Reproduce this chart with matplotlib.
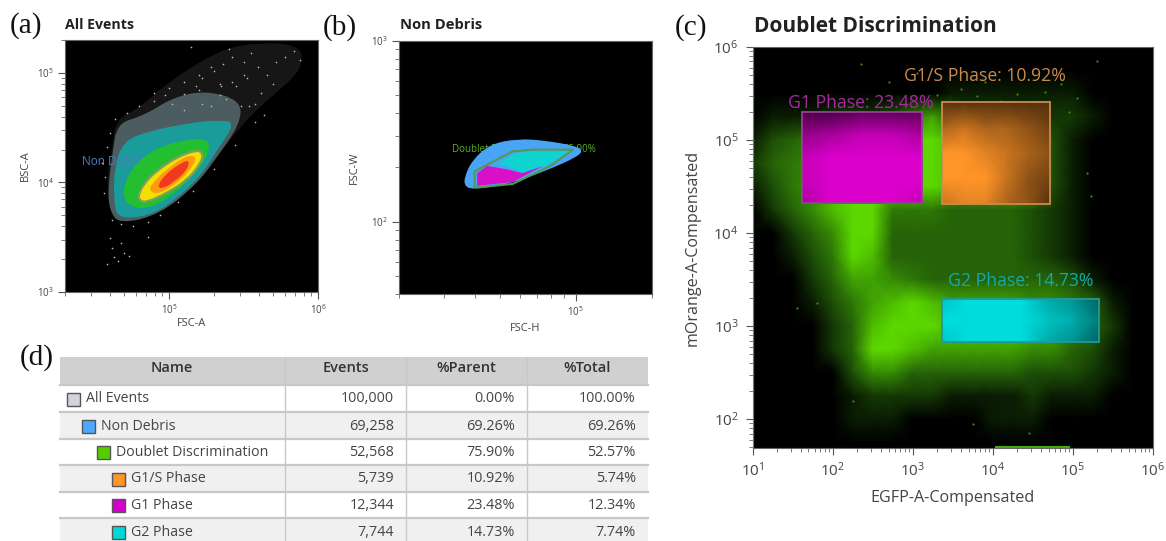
import numpy as np
import matplotlib
matplotlib.use("Agg")
import matplotlib.pyplot as plt
from matplotlib.path import Path
from matplotlib.patches import PathPatch, Rectangle
from matplotlib.colors import LinearSegmentedColormap
from matplotlib.ticker import LogLocator, NullFormatter, LogFormatterSciNotation

plt.rcParams['font.family'] = ['Open Sans', 'DejaVu Sans']
plt.rcParams['mathtext.default'] = 'regular'

W, H = 1166, 541

# ---------- panel (a): density bands, log10 coordinates ----------
a_tail = ([4.64, 4.81, 4.98, 5.25, 5.48, 5.88, 5.90, 5.74, 5.63, 5.48, 5.32, 5.19, 4.94, 4.67, 4.60, 4.58, 4.62],
          [4.57, 4.69, 4.90, 5.14, 5.27, 5.27, 5.05, 4.84, 4.72, 4.51, 4.23, 3.99, 3.71, 3.62, 3.74, 4.02, 4.32])
a_grey = ([4.59, 4.62, 4.65, 4.83, 5.03, 5.25, 5.48, 5.48, 5.32, 5.19, 4.94, 4.67, 4.60],
          [3.96, 4.26, 4.54, 4.61, 4.78, 4.84, 4.75, 4.54, 4.23, 3.99, 3.71, 3.62, 3.74])
a_cyan = ([4.63, 4.63, 4.69, 4.87, 5.12, 5.32, 5.45, 5.32, 5.21, 4.98, 4.81, 4.65],
          [3.84, 4.11, 4.38, 4.47, 4.54, 4.57, 4.55, 4.29, 4.05, 3.77, 3.68, 3.68])
a_green = ([4.68, 4.72, 4.87, 5.07, 5.25, 5.28, 5.16, 4.98, 4.81],
           [3.84, 4.08, 4.29, 4.38, 4.41, 4.29, 4.05, 3.84, 3.74])
a_yellow = ([4.79, 4.83, 4.92, 5.05, 5.19, 5.23, 5.21, 5.12, 4.98, 4.85, 4.81],
            [3.87, 3.99, 4.11, 4.23, 4.30, 4.26, 4.17, 4.02, 3.90, 3.82, 3.83])
a_orange = ([4.86, 4.91, 5.03, 5.13, 5.19, 5.14, 5.03, 4.92],
            [3.93, 4.03, 4.17, 4.25, 4.23, 4.11, 3.97, 3.89])
a_red = ([4.92, 4.98, 5.07, 5.14, 5.12, 5.03, 4.95],
         [3.97, 4.08, 4.17, 4.21, 4.11, 4.00, 3.94])
a_spx = [4.60, 4.62, 4.66, 4.70, 4.73, 4.58, 4.63, 4.68, 4.86, 5.02, 5.10, 5.18, 5.22, 5.30, 5.36, 5.42, 5.50,
         5.55, 5.60, 5.66, 5.72, 5.78, 5.84, 5.88, 5.70, 5.62, 5.52, 5.45, 5.38, 5.28, 5.15, 5.40, 5.58, 4.90, 4.97,
         4.56, 4.57, 4.55, 4.58, 4.60, 4.64, 4.72, 4.80, 4.90, 5.00, 5.10, 5.20, 5.28, 5.35, 5.42, 5.50, 5.54,
         4.62, 4.68, 4.76, 4.86, 4.94, 5.06, 5.16, 5.30, 5.44, 5.58, 5.64, 5.48, 5.34, 5.22, 5.10, 5.34, 5.20]
a_spy = [3.49, 3.40, 3.28, 3.36, 3.33, 3.26, 3.32, 3.45, 3.50, 4.72, 4.81, 4.88, 4.95, 5.02, 5.08, 5.15, 5.10,
         5.18, 5.05, 4.98, 5.10, 5.15, 5.20, 5.12, 4.90, 4.82, 4.95, 4.88, 4.76, 4.70, 5.24, 5.22, 4.72, 4.74, 4.80,
         3.90, 4.05, 4.18, 4.32, 4.45, 4.58, 4.63, 4.70, 4.82, 4.86, 4.92, 4.98, 5.05, 4.88, 4.92, 4.98, 4.70,
         3.66, 3.62, 3.60, 3.64, 3.70, 3.82, 3.92, 4.12, 4.34, 4.55, 4.62, 4.70, 4.80, 4.72, 4.66, 4.90, 4.84]

# ---------- panel (b) ----------
b_blue = ([4.56, 4.56, 4.59, 4.66, 4.77, 4.88, 5.00, 5.03, 4.99, 4.91, 4.80, 4.70, 4.59],
          [2.20, 2.25, 2.34, 2.43, 2.46, 2.45, 2.42, 2.39, 2.35, 2.30, 2.24, 2.20, 2.18])
b_gate = ([4.60, 4.75, 4.83, 4.99, 4.90, 4.75, 4.60], [2.28, 2.39, 2.40, 2.40, 2.31, 2.21, 2.19])
b_cyan = ([4.69, 4.76, 4.83, 4.97, 4.88, 4.79, 4.73], [2.32, 2.38, 2.39, 2.39, 2.31, 2.27, 2.31])
b_mag = ([4.61, 4.65, 4.73, 4.79, 4.87, 4.75, 4.61], [2.27, 2.31, 2.29, 2.27, 2.31, 2.22, 2.20])

# ---------- panel (c): event density read on a quarter-decade lattice ----------
c_x = [1.0, 1.25, 1.5, 1.75, 2.0, 2.25, 2.5, 2.75, 3.0, 3.25, 3.5, 3.75, 4.0, 4.25, 4.5, 4.75, 5.0, 5.25, 5.5, 5.75, 6.0]
c_y = [6.0, 5.75, 5.5, 5.25, 5.0, 4.75, 4.5, 4.25, 4.0, 3.75, 3.5, 3.25, 3.0, 2.75, 2.5, 2.25, 2.0, 1.75, 1.69]
c_density = [
    [0, 0, 0, 0, 0, 0, 0, 0, 0, 0, 0, 0, 0, 0, 0, 0, 0, 0, 0, 0, 0],
    [0, 0, 0, 0, 0, 0, 0, 0, 0, 0, 0, 0, 0, 0, 0, 0, 0, 0, 0, 0, 0],
    [0, 0, 0, 0, 0, 0, 0, 0, 0, 0, 1, 1, 1, 1, 1, 1, 1, 0, 0, 0, 0],
    [0, 1, 1, 1, 2, 2, 2, 3, 5, 7, 3, 2, 2, 2, 2, 2, 2, 1, 0, 0, 0],
    [1, 3, 4, 5, 8, 8, 8, 8, 9, 9, 8, 8, 8, 8, 8, 3, 1, 0, 0, 0, 0],
    [2, 4, 5, 6, 9, 9, 9, 9, 9, 9, 8, 8, 8, 8, 8, 3, 1, 0, 0, 0, 0],
    [1, 3, 5, 6, 8, 9, 9, 9, 9, 9, 8, 8, 8, 8, 8, 3, 1, 0, 0, 0, 0],
    [0, 2, 4, 6, 8, 9, 9, 5, 5, 5, 4, 4, 4, 4, 3, 2, 1, 0, 0, 0, 0],
    [0, 0, 2, 4, 6, 9, 9, 4, 4, 4, 4, 4, 4, 4, 3, 2, 1, 0, 0, 0, 0],
    [0, 0, 1, 3, 5, 9, 8, 4, 4, 4, 4, 4, 4, 4, 3, 2, 1, 0, 0, 0, 0],
    [0, 0, 0, 2, 4, 7, 7, 6, 5, 4, 4, 4, 4, 4, 4, 4, 3, 1, 0, 0, 0],
    [0, 0, 0, 1, 3, 5, 7, 8, 9, 8, 7, 7, 7, 7, 6, 6, 5, 4, 1, 0, 0],
    [0, 0, 0, 0, 2, 4, 8, 9, 9, 9, 8, 8, 8, 8, 8, 7, 6, 4, 2, 0, 0],
    [0, 0, 0, 0, 2, 4, 9, 9, 8, 7, 7, 7, 7, 7, 6, 6, 4, 3, 1, 0, 0],
    [0, 0, 0, 0, 0, 3, 6, 6, 4, 4, 4, 4, 4, 4, 3, 3, 3, 2, 1, 0, 0],
    [0, 0, 0, 0, 0, 1, 2, 2, 2, 2, 1, 1, 1, 1, 2, 1, 1, 1, 0, 0, 0],
    [0, 0, 0, 0, 0, 1, 1, 1, 0, 0, 0, 0, 1, 1, 1, 0, 0, 0, 0, 0, 0],
    [0, 0, 0, 0, 0, 0, 0, 0, 0, 0, 0, 0, 0, 0, 0, 0, 0, 0, 0, 0, 0],
    [0, 0, 0, 0, 0, 0, 0, 0, 0, 0, 0, 0, 0, 0, 0, 0, 0, 0, 0, 0, 0],
]
c_spx = [2.35, 3.05, 3.60, 3.90, 4.30, 4.85, 5.05, 5.30, 2.70, 3.30, 4.65, 4.10, 3.80, 4.95, 5.18, 5.22, 2.25, 1.80, 1.55, 3.75, 4.45]
c_spy = [5.82, 5.72, 5.55, 5.62, 5.50, 5.60, 5.45, 5.85, 5.62, 5.48, 5.52, 5.42, 5.47, 5.30, 4.65, 4.40, 2.20, 3.25, 3.20, 1.95, 1.85]

g1_x = [41.7, 1290]
g1_y = [2.1e4, 2.0e5]
g1_density = [[7, 9, 9, 9, 8], [8, 9, 9, 9, 9], [8, 9, 9, 9, 9], [6, 7, 8, 8, 7], [3, 3, 4, 4, 4]]
g1s_x = [2350, 51500]
g1s_y = [2.05e4, 2.57e5]
g1s_density = [[7, 8, 8, 6, 5, 3], [9, 9, 9, 7, 5, 4], [9, 9, 8, 7, 6, 5], [6, 7, 6, 6, 5, 4], [3, 3, 3, 3, 3, 3]]
g2_x = [2350, 2.1e5]
g2_y = [680, 1950]
g2_density = [[8, 9, 9, 9, 7, 6, 4], [9, 9, 9, 9, 8, 7, 5], [8, 9, 9, 9, 7, 6, 4]]

# ---------- panel (d) table ----------
table_header = ["Name", "Events", "%Parent", "%Total"]
table_names = ["All Events", "Non Debris", "Doublet Discrimination", "G1/S Phase", "G1 Phase", "G2 Phase"]
table_events = ["100,000", "69,258", "52,568", "5,739", "12,344", "7,744"]
table_parent = ["0.00%", "69.26%", "75.90%", "10.92%", "23.48%", "14.73%"]
table_total = ["100.00%", "69.26%", "52.57%", "5.74%", "12.34%", "7.74%"]
table_colors = ["#d2d2dc", "#4da6ff", "#55cc00", "#ff9428", "#d400cc", "#00d8d8"]
table_indent = [0, 1, 2, 3, 3, 3]

TICK = "#444444"


def px_axes(fig, l, t, r, b):
    return fig.add_axes([l / W, 1 - b / H, (r - l) / W, (b - t) / H])


def style(ax, xlim, ylim, xt, yt, size, pad=3):
    ax.set_xscale('log')
    ax.set_yscale('log')
    ax.set_xlim(*xlim)
    ax.set_ylim(*ylim)
    ax.set_facecolor('black')
    for ax_, ticks in ((ax.xaxis, xt), (ax.yaxis, yt)):
        ax_.set_major_locator(plt.FixedLocator(ticks))
        ax_.set_major_formatter(LogFormatterSciNotation())
        ax_.set_minor_locator(LogLocator(base=10, subs=np.arange(2, 10), numticks=30))
        ax_.set_minor_formatter(NullFormatter())
    ax.tick_params(which='major', length=5, width=0.8, color='#555555', labelsize=size, labelcolor=TICK, pad=pad)
    ax.tick_params(which='minor', length=3, width=0.6, color='#666666')
    for s in ax.spines.values():
        s.set_color('#666666')
        s.set_linewidth(0.8)


def smooth(ax, pts, fc, ec='none', lw=0, z=2):
    x, y = 10.0 ** np.array(pts[0]), 10.0 ** np.array(pts[1])
    n = len(x)
    verts = [(np.sqrt(x[-1] * x[0]), np.sqrt(y[-1] * y[0]))]
    codes = [Path.MOVETO]
    for i in range(n):
        j = (i + 1) % n
        verts += [(x[i], y[i]), (np.sqrt(x[i] * x[j]), np.sqrt(y[i] * y[j]))]
        codes += [Path.CURVE3, Path.CURVE3]
    ax.add_patch(PathPatch(Path(verts, codes), fc=fc, ec=ec, lw=lw, zorder=z))


def straight(ax, pts, **kw):
    ax.fill(10.0 ** np.array(pts[0]), 10.0 ** np.array(pts[1]), **kw)


def gate(ax, xs, ys, density, top, edge):
    d = np.array(density, float)
    X = np.logspace(np.log10(xs[0]), np.log10(xs[1]), d.shape[1])
    Y = np.logspace(np.log10(ys[0]), np.log10(ys[1]), d.shape[0])
    cm = LinearSegmentedColormap.from_list('g', ['#000000', top])
    ax.pcolormesh(X, Y, d, cmap=cm, vmin=0, vmax=9, shading='gouraud', zorder=3)
    ax.add_patch(Rectangle((xs[0], ys[0]), xs[1] - xs[0], ys[1] - ys[0], fc='none', ec=edge, lw=1.3, zorder=4))


fig = plt.figure(figsize=(W / 100, H / 100), dpi=100, facecolor='white')

# panel a
ax = px_axes(fig, 65, 40, 318, 292)
style(ax, (2e4, 1e6), (1e3, 2e5), [1e5, 1e6], [1e3, 1e4, 1e5], 7)
smooth(ax, a_tail, '#161616', z=2)
smooth(ax, a_grey, '#4c5c60', z=3)
smooth(ax, a_cyan, '#1a9c9a', z=4)
ax.text(2.6e4, 1.55e4, "Non Debris: 69.26%", color='#4a7fc0', fontsize=8.5, va='center', zorder=4.5)
smooth(ax, a_green, '#22c030', z=5)
smooth(ax, a_yellow, '#f2e000', ec='#8a9a60', lw=1.5, z=6)
smooth(ax, a_orange, '#ff9a10', z=7)
smooth(ax, a_red, '#f03a20', z=8)
ax.scatter(10.0 ** np.array(a_spx), 10.0 ** np.array(a_spy), s=1.4, c='#bbbbbb', lw=0, zorder=5)
ax.set_xlabel("FSC-A", fontsize=8, color=TICK, labelpad=1)
ax.set_ylabel("BSC-A", fontsize=8, color=TICK, labelpad=4)

# panel b
ax = px_axes(fig, 399, 41, 652, 294)
style(ax, (2e4, 2e5), (40, 1e3), [1e5], [1e2, 1e3], 7)
ax.text(10 ** 4.51, 252, "Doublet Discrimination: 75.90%", color='#58b020', fontsize=7, va='center', zorder=1)
smooth(ax, b_blue, '#4aa4f5', z=2)
straight(ax, b_cyan, fc='#10d4d0', zorder=3)
straight(ax, b_mag, fc='#d810c8', zorder=4)
straight(ax, b_gate, fc='none', ec='#4f9a50', lw=1.5, zorder=5)
ax.set_xlabel("FSC-H", fontsize=8, color=TICK, labelpad=3)
ax.set_ylabel("FSC-W", fontsize=8, color=TICK, labelpad=8)

# panel c
ax = px_axes(fig, 752.5, 47, 1153, 448)
style(ax, (10, 1e6), (49, 1e6), [1e1, 1e2, 1e3, 1e4, 1e5, 1e6], [1e2, 1e3, 1e4, 1e5, 1e6], 11, pad=5)
cm_green = LinearSegmentedColormap.from_list('c', ['#000000', '#173f06', '#2a6d08', '#3c9a04', '#5cd800'])
ax.pcolormesh(10.0 ** np.array(c_x), 10.0 ** np.array(c_y), np.array(c_density, float), cmap=cm_green,
              vmin=0, vmax=9, shading='gouraud', zorder=1)
ax.scatter(10.0 ** np.array(c_spx), 10.0 ** np.array(c_spy), s=2.5, c='#3c8a18', lw=0, zorder=2)
gate(ax, g1_x, g1_y, g1_density, '#dc00cc', '#9a3e98')
gate(ax, g1s_x, g1s_y, g1s_density, '#ff9428', '#c98a50')
gate(ax, g2_x, g2_y, g2_density, '#00dcdc', '#1f9a9a')
ax.text(770, 4.9e5, "G1/S Phase: 10.92%", color='#c98a50', fontsize=12.7, va='center', zorder=5)
ax.text(28, 2.5e5, "G1 Phase: 23.48%", color='#a828a4', fontsize=12.7, va='center', zorder=5)
ax.text(2750, 3050, "G2 Phase: 14.73%", color='#16a8a8', fontsize=12.7, va='center', zorder=5)
ax.set_xlabel("EGFP-A-Compensated", fontsize=11.6, color=TICK, labelpad=7)
ax.set_ylabel("mOrange-A-Compensated", fontsize=11.6, color=TICK, labelpad=9)
ax.plot([10.2, 10.2], [49, 1e6], color='#3faa10', lw=1.5, zorder=6)
ax.plot([1.1e4, 9e4], [50, 50], color='#3faa10', lw=1.5, zorder=6)

# overlay in pixel units for titles, panel letters and table
ov = fig.add_axes([0, 0, 1, 1], zorder=10)
ov.set_xlim(0, W)
ov.set_ylim(H, 0)
ov.axis('off')
for x, y, s in [(10, 26, "(a)"), (323, 28, "(b)"), (675, 28, "(c)"), (20, 358, "(d)")]:
    ov.text(x, y, s, family='Liberation Serif', fontsize=21, va='center', color='#111111')
ov.text(65, 25, "All Events", fontsize=10.2, fontweight='bold', va='center', color='#222222')
ov.text(400, 25, "Non Debris", fontsize=10.6, fontweight='bold', va='center', color='#222222')
ov.text(754, 26, "Doublet Discrimination", fontsize=15, fontweight='bold', va='center', color='#222222')

col_edges = [59.5, 285, 406, 527, 648]
row_edges = [385, 412, 438.5, 465, 491.5, 518, 541]
ov.add_patch(Rectangle((col_edges[0], 356.5), col_edges[-1] - col_edges[0], 28.5, fc='#d0d0d0', ec='none'))
for i in range(4):
    ov.text((col_edges[i] + col_edges[i + 1]) / 2, 368, table_header[i], ha='center', va='center',
            fontsize=10.5, fontweight='semibold', color='#333333')
for i in range(6):
    top, bot = row_edges[i], row_edges[i + 1]
    ov.add_patch(Rectangle((col_edges[0], top), col_edges[-1] - col_edges[0], bot - top,
                           fc='#f0f0f0' if i % 2 else 'white', ec='none'))
    ov.plot([col_edges[0], col_edges[-1]], [top, top], color='#c8c8c8', lw=1.6)
    cy = top + 14
    left = 66.5 + 15.2 * table_indent[i]
    ov.add_patch(Rectangle((left, cy - 6.5), 13, 13, fc=table_colors[i], ec='#555555', lw=1))
    ov.text(left + 19, cy, table_names[i], va='center', fontsize=10.2, color='#444444')
    for r, col in zip((394, 515, 636), (table_events, table_parent, table_total)):
        ov.text(r, cy, col[i], va='center', ha='right', fontsize=10.4, color='#444444')
for x in col_edges[1:-1]:
    ov.plot([x, x], [357, 541], color='#c8c8c8', lw=1)

fig.savefig("out.png", dpi=100)
